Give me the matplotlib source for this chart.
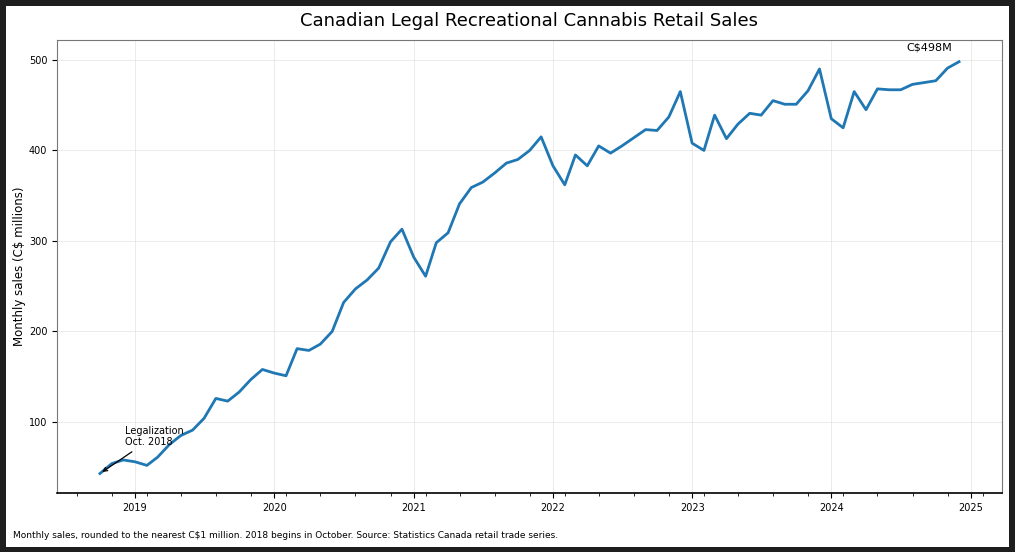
import matplotlib
matplotlib.use("Agg")
import matplotlib.pyplot as plt
import matplotlib.dates as mdates
from matplotlib.patches import Rectangle
import pandas as pd

# monthly sales, C$ millions, Oct 2018 - Dec 2024
start_month = "2018-10-01"
sales = [
    43, 54, 58,
    56, 52, 61, 75, 85, 91, 104, 126, 123, 133, 147, 158,
    154, 151, 181, 179, 186, 200, 232, 247, 257, 270, 299, 313,
    282, 261, 298, 309, 341, 359, 365, 375, 386, 390, 400, 415,
    383, 362, 395, 383, 405, 397, 405, 414, 423, 422, 437, 465,
    408, 400, 439, 413, 429, 441, 439, 455, 451, 451, 466, 490,
    435, 425, 465, 445, 468, 467, 467, 473, 475, 477, 491, 498,
]
months = pd.date_range(start_month, periods=len(sales), freq="MS")

title = "Canadian Legal Recreational Cannabis Retail Sales"
ylabel = "Monthly sales (C$ millions)"
note = ("Monthly sales, rounded to the nearest C$1 million. 2018 begins in October. "
        "Source: Statistics Canada retail trade series.")

fig = plt.figure(figsize=(10.15, 5.52), dpi=100)
fig.patch.set_facecolor("#1e1e1e")
fig.add_artist(Rectangle((6 / 1015, 5 / 552), 1003 / 1015, 541 / 552,
                         transform=fig.transFigure, facecolor="white",
                         edgecolor="none", zorder=-1))

ax = fig.add_axes([57 / 1015, 1 - 493 / 552, 945 / 1015, 453 / 552])
ax.plot(months, sales, color="#1f77b4", linewidth=2)
ax.set_ylim(21.5, 522)

ax.xaxis.set_major_locator(mdates.YearLocator())
ax.xaxis.set_major_formatter(mdates.DateFormatter("%Y"))
ax.xaxis.set_minor_locator(mdates.MonthLocator(bymonth=[2, 5, 8, 11]))
ax.set_yticks([100, 200, 300, 400, 500])
ax.tick_params(labelsize=7)
ax.grid(True, color="#dddddd", linewidth=0.6, alpha=0.7)

for side in ["top", "right", "left"]:
    ax.spines[side].set_color("#777777")
ax.spines["bottom"].set_color("black")
ax.spines["bottom"].set_linewidth(1.2)

ax.set_ylabel(ylabel, fontsize=8.5)
ax.yaxis.set_label_coords(-0.033, 0.5)
ax.text(0.5, 1 + 19 / 453, title, transform=ax.transAxes,
        ha="center", va="center", fontsize=13)

ax.annotate("Legalization\nOct. 2018", xy=(months[0], sales[0]),
            xytext=(pd.Timestamp("2018-12-05"), 74), fontsize=7,
            arrowprops=dict(arrowstyle="->", color="black", lw=0.9))
ax.annotate(f"C${sales[-1]}M", xy=(months[-1], sales[-1]),
            xytext=(-5, 7), textcoords="offset points",
            ha="right", va="bottom", fontsize=8)

fig.text(13 / 1015, 1 - 536 / 552, note, ha="left", va="center", fontsize=6.5)

fig.savefig("out.png", dpi=100, facecolor=fig.get_facecolor())
